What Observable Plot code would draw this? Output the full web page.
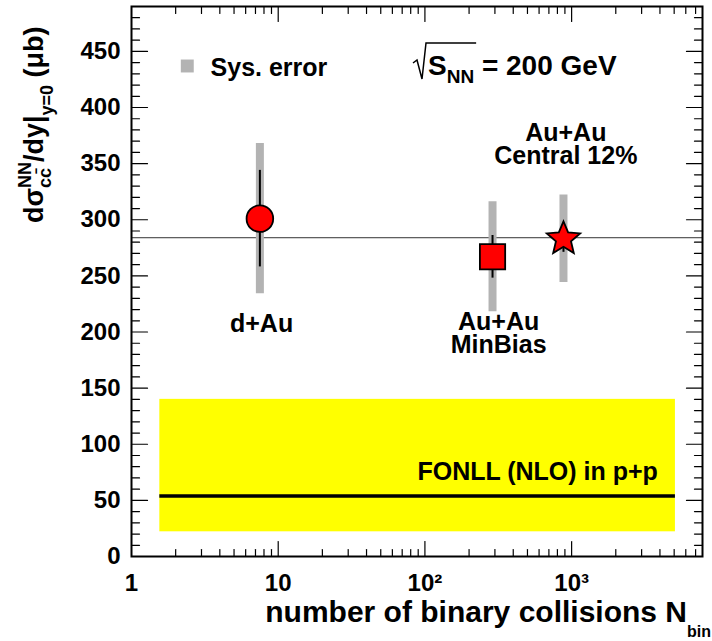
<!DOCTYPE html>
<html>
<head>
<meta charset="utf-8">
<script src="https://cdn.jsdelivr.net/npm/d3@7"></script>
<script src="https://cdn.jsdelivr.net/npm/@observablehq/plot@0.6"></script>
<style>
  body { margin: 0; background: #fff; }
  svg { display: block; }
</style>
</head>
<body>
<div id="chart"></div>
<script>
// Charm cross section per binary collision at mid-rapidity, sqrt(s_NN) = 200 GeV
const systems = ["d+Au", "Au+Au MinBias", "Au+Au Central 12%"];
const nBin = [7.5, 289, 880];
const dSigmaDy = [301, 267, 283];
const statErr = [43, 19, 12];
const sysErr = [67, 49, 39];

// FONLL (NLO) p+p expectation: central value and uncertainty band
const fonllCentral = 54;
const fonllLow = 22;
const fonllHigh = 140;
const fonllNbin = [1.56, 5100];

// common level across systems
const fitLevel = 284;

// axis ticks
const xTickValues = [1, 10, 100, 1000];
const xTickLabels = ["1", "10", "10²", "10³"];
const yTickValues = [0, 50, 100, 150, 200, 250, 300, 350, 400, 450];

const xDomain = [1, 7800];
const yDomain = [0, 490];

const points = systems.map((system, i) => ({
  system, nbin: nBin[i], value: dSigmaDy[i], stat: statErr[i], sys: sysErr[i]
}));

// minor ticks: 2..9 per decade, every 10 units on y
const xMinor = [];
for (let k = 0; k < 4; ++k) for (let m = 2; m <= 9; ++m) {
  const v = m * 10 ** k;
  if (v < xDomain[1]) xMinor.push(v);
}
const yMinor = d3.range(10, yDomain[1], 10).filter(v => v % 50 !== 0);
const yMajorInner = yTickValues.filter(v => v > 0);
const xMajorInner = xTickValues.filter(v => v > 1);

// marker shapes
const circleSym = {draw(ctx, size) { const r = Math.sqrt(size / Math.PI); ctx.moveTo(r, 0); ctx.arc(0, 0, r, 0, 2 * Math.PI); }};
const squareSym = {draw(ctx, size) { const r = Math.sqrt(size / Math.PI) * 0.95; ctx.rect(-r, -r, 2 * r, 2 * r); }};
const starSym = {draw(ctx, size) {
  const R = Math.sqrt(size / Math.PI) * 1.32, ri = R * 0.45;
  for (let i = 0; i < 10; ++i) {
    const a = -Math.PI / 2 + i * Math.PI / 5, rr = i % 2 ? ri : R;
    if (i) ctx.lineTo(rr * Math.cos(a), rr * Math.sin(a)); else ctx.moveTo(rr * Math.cos(a), rr * Math.sin(a));
  }
  ctx.closePath();
}};

// inward tick shape for the frame
const tickShape = {draw(ctx, l) { ctx.moveTo(0, 0); ctx.lineTo(0, -l); }};
const tickOpts = {anchor: "start", shape: tickShape, stroke: "black", strokeWidth: 1.2};

const FONT = "'Liberation Sans', Arial, Helvetica, sans-serif";
const textOpts = {fontSize: 25, fontWeight: "bold", fill: "black"};

const plot = Plot.plot({
  width: 712,
  height: 641,
  marginLeft: 131,
  marginRight: 10,
  marginTop: 6,
  marginBottom: 85,
  style: {fontFamily: FONT, fontWeight: "bold", background: "white"},
  x: {type: "log", domain: xDomain},
  y: {domain: yDomain},
  symbol: {domain: systems, range: [circleSym, squareSym, starSym]},
  marks: [
    Plot.rect([0], {x1: fonllNbin[0], x2: fonllNbin[1], y1: fonllLow, y2: fonllHigh, fill: "#ffff00"}),
    Plot.ruleY([fonllCentral], {x1: fonllNbin[0], x2: fonllNbin[1], stroke: "black", strokeWidth: 3.5}),
    Plot.ruleY([fitLevel], {stroke: "#333", strokeWidth: 1}),
    Plot.ruleX(points, {x: "nbin", y1: d => d.value - d.sys, y2: d => d.value + d.sys, stroke: "#b3b3b3", strokeWidth: 8}),
    Plot.ruleX(points, {x: "nbin", y1: d => d.value - d.stat, y2: d => d.value + d.stat, stroke: "black", strokeWidth: 2}),
    Plot.dot(points, {x: "nbin", y: "value", symbol: "system", r: 13.3, fill: "#ff0000", stroke: "black", strokeWidth: 1.8}),

    // annotations
    Plot.text(["d+Au"], {x: 7.7, y: 200, text: d => d, lineAnchor: "bottom", ...textOpts}),
    Plot.text(["Au+Au\nMinBias"], {x: 318, y: 181, text: d => d, lineAnchor: "bottom", lineHeight: 0.92, ...textOpts}),
    Plot.text(["Au+Au\nCentral 12%"], {x: 913, y: 350, text: d => d, lineAnchor: "bottom", lineHeight: 0.9, ...textOpts}),
    Plot.text(["FONLL (NLO) in p+p"], {x: 3873, y: 68.6, text: d => d, textAnchor: "end", lineAnchor: "bottom", ...textOpts}),
    Plot.dot([0], {x: 2.4, y: 437, symbol: "square", r: 7.3, fill: "#b3b3b3"}),
    Plot.text(["Sys. error"], {x: 3.46, y: 428.5, text: d => d, textAnchor: "start", lineAnchor: "bottom", ...textOpts}),

    // inward ticks on all four sides
    Plot.vector(yMajorInner, {x: xDomain[0], y: d => d, length: 16, rotate: 90, ...tickOpts}),
    Plot.vector(yMinor, {x: xDomain[0], y: d => d, length: 8, rotate: 90, ...tickOpts}),
    Plot.vector(yMajorInner, {x: xDomain[1], y: d => d, length: 16, rotate: -90, ...tickOpts}),
    Plot.vector(yMinor, {x: xDomain[1], y: d => d, length: 8, rotate: -90, ...tickOpts}),
    Plot.vector(xMajorInner, {x: d => d, y: yDomain[0], length: 15, rotate: 0, ...tickOpts}),
    Plot.vector(xMinor, {x: d => d, y: yDomain[0], length: 7, rotate: 0, ...tickOpts}),
    Plot.vector(xMajorInner, {x: d => d, y: yDomain[1], length: 15, rotate: 180, ...tickOpts}),
    Plot.vector(xMinor, {x: d => d, y: yDomain[1], length: 7, rotate: 180, ...tickOpts}),
    Plot.frame({stroke: "black", strokeWidth: 2}),

    Plot.axisY({ticks: yTickValues, tickSize: 0, tickPadding: 11, fontSize: 24, fontWeight: "bold", label: null}),
    Plot.axisX({ticks: xTickValues, tickFormat: d => xTickLabels[xTickValues.indexOf(d)], tickSize: 0, tickPadding: 17, fontSize: 24, fontWeight: "bold", label: null})
  ]
});

document.getElementById("chart").appendChild(plot);

// text with sub/superscripts, laid out run by run
const svg = d3.select(plot);
function measure(text, size) {
  const t = svg.append("text").attr("font-family", FONT).attr("font-weight", "bold").attr("font-size", size).text(text);
  const w = t.node().getComputedTextLength();
  t.remove();
  return w;
}
function richText(runs, attrs) {
  const t = svg.append("text").attr("font-family", FONT).attr("font-weight", "bold")
    .attr("fill", "black").attr("text-anchor", "start");
  for (const [k, v] of Object.entries(attrs)) t.attr(k, v);
  let base = 0;
  for (const r of runs) {
    const s = t.append("tspan").attr("font-size", r.size).text(r.text);
    const shift = r.shift || 0;
    if (shift !== base) s.attr("dy", shift - base);
    if (r.dx) s.attr("dx", r.dx);
    base = shift;
  }
  return t;
}

// y-axis title: dσ^{NN}_{cc̄}/dy|_{y=0} (μb)
{
  const big = 27, small = 18;
  const wNN = measure("NN", small), wcc = measure("cc\u0304", small);
  richText([
    {text: "d\u03c3", size: big},
    {text: "NN", size: small, shift: -12},
    {text: "cc\u0304", size: small, shift: 8, dx: -wNN},
    {text: "/dy|", size: big, shift: 0, dx: Math.max(0, wNN - wcc)},
    {text: "y=0", size: small, shift: 10},
    {text: " (\u03bcb)", size: big, shift: 0}
  ], {transform: "translate(43,223) rotate(-90)"});
}

// x-axis title: number of binary collisions N_bin
richText([
  {text: "number of binary collisions N", size: 30},
  {text: "bin", size: 16, shift: 15}
], {x: 711, y: 622, "text-anchor": "end"});

// √s_NN = 200 GeV
{
  const x0 = 428, y0 = 75;
  const wS = measure("S", 28), wNN = measure("NN", 19);
  richText([
    {text: "S", size: 28},
    {text: "NN", size: 19, shift: 8},
    {text: " = 200 GeV", size: 28, shift: 0}
  ], {x: x0, y: y0});
  svg.append("path")
    .attr("d", `M413,63 L417,60 L422,79 L426,43 H${x0 + wS + wNN + 2}`)
    .attr("fill", "none").attr("stroke", "black").attr("stroke-width", 1.5);
}
</script>
</body>
</html>
